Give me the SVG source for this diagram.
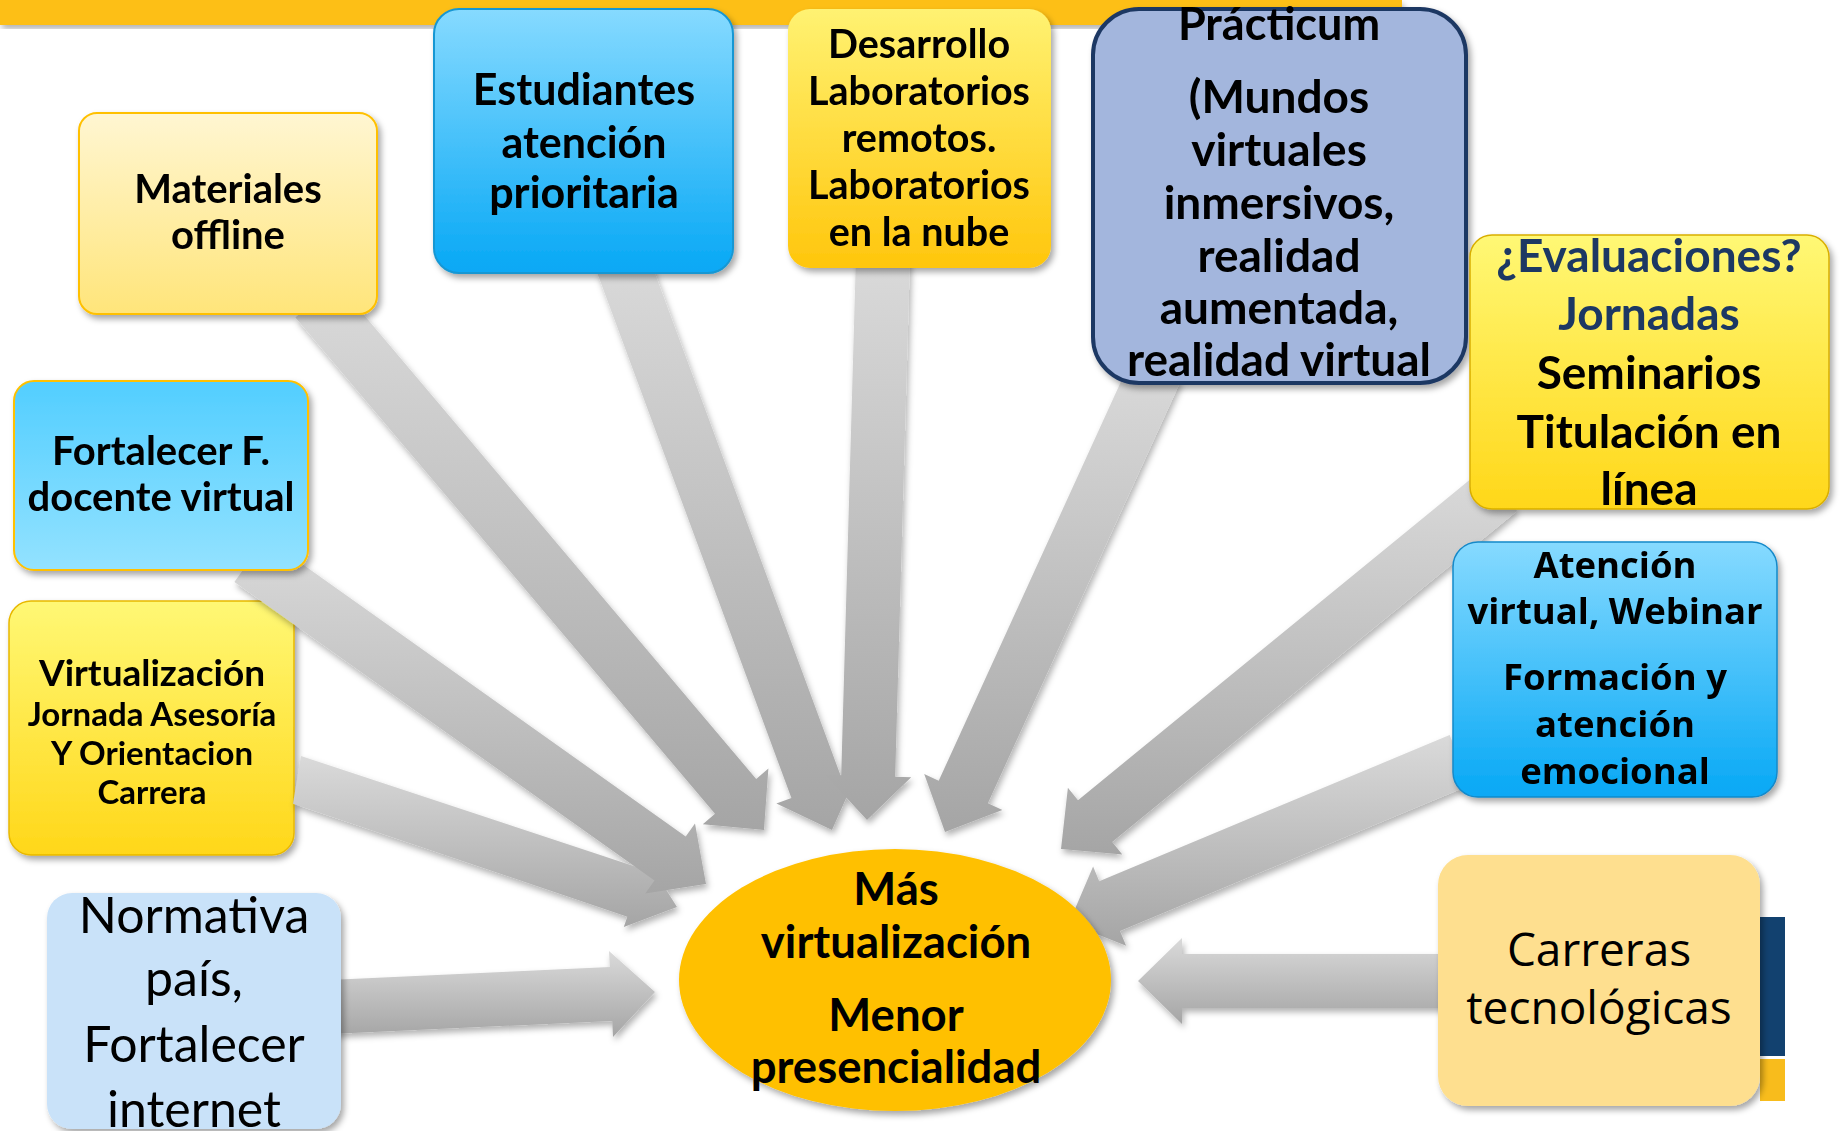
<svg xmlns="http://www.w3.org/2000/svg" width="1843" height="1131" viewBox="0 0 1843 1131">
<style>
.t{font-family:Lato,"Liberation Sans",sans-serif;font-weight:bold;fill:#000;text-anchor:middle}
.r{font-family:Lato,"Liberation Sans",sans-serif;font-weight:normal;fill:#000;text-anchor:middle}
.v{font-family:"Open Sans","DejaVu Sans",sans-serif;font-weight:bold;fill:#000;text-anchor:middle}
.o{font-family:"Open Sans","Liberation Sans",sans-serif;font-weight:normal;fill:#000;text-anchor:middle}
.navy{fill:#1F3864}
.arrow{fill:url(#gArrow)}
</style>
<defs>
<filter id="sh" x="-10%" y="-10%" width="125%" height="130%">
<feDropShadow dx="3" dy="4" stdDeviation="3" flood-color="#000" flood-opacity="0.35"/>
</filter>
<filter id="ash" x="-10%" y="-10%" width="125%" height="125%">
<feDropShadow dx="2" dy="4" stdDeviation="3" flood-color="#000" flood-opacity="0.3"/>
</filter>
<linearGradient id="gArrow" x1="0" y1="0" x2="0" y2="1">
<stop offset="0" stop-color="#DADADA"/><stop offset="1" stop-color="#A5A5A5"/>
</linearGradient>
<linearGradient id="gPaleY" x1="0" y1="0" x2="0" y2="1">
<stop offset="0" stop-color="#FFF6D2"/><stop offset="1" stop-color="#FFE57A"/>
</linearGradient>
<linearGradient id="gBlue" x1="0" y1="0" x2="0" y2="1">
<stop offset="0" stop-color="#86DAFF"/><stop offset="1" stop-color="#07A8F5"/>
</linearGradient>
<linearGradient id="gBlueUp" x1="0" y1="0" x2="0" y2="1">
<stop offset="0" stop-color="#52CEFF"/><stop offset="1" stop-color="#93E2FF"/>
</linearGradient>
<linearGradient id="gGold" x1="0" y1="0" x2="0" y2="1">
<stop offset="0" stop-color="#FFF272"/><stop offset="1" stop-color="#FFC60C"/>
</linearGradient>
<linearGradient id="gYel" x1="0" y1="0" x2="0" y2="1">
<stop offset="0" stop-color="#FFF875"/><stop offset="1" stop-color="#FFD719"/>
</linearGradient>
</defs>
<rect width="1843" height="1131" fill="#FFFFFF"/>
<rect x="0" y="0" width="1402" height="25" fill="#FDBF17" filter="url(#ash)"/>

<g id="node-virtualizacion" filter="url(#sh)">
<rect x="9" y="601" width="285" height="254" rx="22" fill="url(#gYel)" stroke="#E8B800" stroke-width="1.5"/>
<text class="t" x="152" y="686" font-size="37">Virtualización</text>
<text class="t" x="152" y="726" font-size="33">Jornada Asesoría</text>
<text class="t" x="152" y="765" font-size="33">Y Orientacion</text>
<text class="t" x="152" y="804" font-size="33">Carrera</text>
</g>

<g id="connectors" filter="url(#ash)">
<polygon class="arrow" points="301,756 643.3,869.3 646.8,858.9 677,907 623.8,927.1 627.3,916.7 293,803.7"/>
<polygon class="arrow" points="234.4,582 654.5,880.5 645.2,893.6 706,884 695,823.4 685.7,836.5 265.6,538"/>
<polygon class="arrow" points="295.4,317.4 715,813.8 702.8,824.2 764,830 768.4,768.6 756.2,779 336.6,282.6"/>
<polygon class="arrow" points="596.7,271.4 791.4,798.1 776.4,803.6 832,830 857,773.8 842,779.3 647.3,252.6"/>
<polygon class="arrow" points="856,254.2 841.2,775.2 825.2,774.8 867,820 911.2,777.2 895.2,776.8 910,255.8"/>
<polygon class="arrow" points="1131.4,358.8 938.7,780.8 924.2,774.1 945,832 1002.4,809.9 987.9,803.2 1180.6,381.2"/>
<polygon class="arrow" points="1482.9,469.1 1078,800.2 1067.9,787.8 1061,849 1122.3,854.4 1112.2,842 1517.1,510.9"/>
<polygon class="arrow" points="1449.6,735.1 1099.2,881.2 1093.1,866.4 1069,923 1126.1,945.8 1120,931 1470.4,784.9"/>
<polygon class="arrow" points="1450,954 1182,954 1182,938 1138,981 1182,1024 1182,1008 1450,1008"/>
<polygon class="arrow" points="328.8,980 609.8,967 609,951 655,992 613,1037 612.2,1021 331.2,1034"/>
</g>

<g id="node-materiales" filter="url(#sh)">
<rect x="79" y="113" width="298" height="201" rx="18" fill="url(#gPaleY)" stroke="#FFC000" stroke-width="2"/>
<text class="t" x="228" y="203" font-size="40">Materiales</text>
<text class="t" x="228" y="249" font-size="40">offline</text>
</g>

<g id="node-estudiantes" filter="url(#sh)">
<rect x="434" y="9" width="299" height="264" rx="25" fill="url(#gBlue)" stroke="#1797D3" stroke-width="2"/>
<text class="t" x="584" y="105" font-size="43">Estudiantes</text>
<text class="t" x="584" y="158" font-size="43">atención</text>
<text class="t" x="584" y="208" font-size="43">prioritaria</text>
</g>

<g id="node-desarrollo" filter="url(#sh)">
<rect x="788" y="9" width="263" height="259" rx="22" fill="url(#gGold)"/>
<text class="t" x="919" y="58" font-size="39.5">Desarrollo</text>
<text class="t" x="919" y="105" font-size="39.5">Laboratorios</text>
<text class="t" x="919" y="152" font-size="39.5">remotos.</text>
<text class="t" x="919" y="199" font-size="39.5">Laboratorios</text>
<text class="t" x="919" y="246" font-size="39.5">en la nube</text>
</g>

<g id="node-practicum" filter="url(#sh)">
<rect x="1093" y="9" width="373" height="374" rx="46" fill="#A3B6DD" stroke="#1F3864" stroke-width="4"/>
<text class="t" x="1279" y="40" font-size="45">Prácticum</text>
<text class="t" x="1279" y="113" font-size="46">(Mundos</text>
<text class="t" x="1279" y="166" font-size="46">virtuales</text>
<text class="t" x="1279" y="219" font-size="46">inmersivos,</text>
<text class="t" x="1279" y="272" font-size="46">realidad</text>
<text class="t" x="1279" y="324" font-size="46">aumentada,</text>
<text class="t" x="1279" y="376" font-size="46">realidad virtual</text>
</g>

<g id="node-evaluaciones" filter="url(#sh)">
<rect x="1470" y="235" width="359" height="274" rx="22" fill="url(#gYel)" stroke="#D9AE00" stroke-width="1.5"/>
<text class="t navy" x="1649" y="272" font-size="46" style="fill:#1F3864">¿Evaluaciones?</text>
<text class="t navy" x="1649" y="330" font-size="46" style="fill:#1F3864">Jornadas</text>
<text class="t" x="1649" y="389" font-size="46">Seminarios</text>
<text class="t" x="1649" y="448" font-size="46">Titulación en</text>
<text class="t" x="1649" y="505" font-size="46">línea</text>
</g>

<g id="node-fortalecer" filter="url(#sh)">
<rect x="14" y="381" width="294" height="189" rx="20" fill="url(#gBlueUp)" stroke="#FFC000" stroke-width="2"/>
<text class="t" x="161" y="465" font-size="40">Fortalecer F.</text>
<text class="t" x="161" y="511" font-size="40">docente virtual</text>
</g>

<g id="node-atencion" filter="url(#sh)">
<rect x="1453" y="542" width="324" height="255" rx="25" fill="url(#gBlue)" stroke="#1489C9" stroke-width="1.5"/>
<text class="v" x="1615" y="578" font-size="36.5">Atención</text>
<text class="v" x="1615" y="624" font-size="36.5">virtual, Webinar</text>
<text class="v" x="1615" y="690" font-size="36.5">Formación y</text>
<text class="v" x="1615" y="737" font-size="36.5">atención</text>
<text class="v" x="1615" y="784" font-size="36.5">emocional</text>
</g>

<g id="node-normativa" filter="url(#sh)">
<rect x="47" y="893" width="294" height="236" rx="25" fill="#C9E2F9"/>
<text class="r" x="194" y="933" font-size="50">Normativa</text>
<text class="r" x="194" y="996" font-size="50">país,</text>
<text class="r" x="194" y="1062" font-size="50">Fortalecer</text>
<text class="r" x="194" y="1127" font-size="50">internet</text>
</g>

<g id="node-carreras">
<rect x="1760" y="917" width="25" height="139" fill="#12416F"/>
<rect x="1760" y="1059" width="25" height="42" fill="#F8BC1C"/>
<rect x="1438" y="855" width="322" height="251" rx="30" fill="#FEDF8F" filter="url(#sh)"/>
<text class="o" x="1599" y="966" font-size="46">Carreras</text>
<text class="o" x="1599" y="1024" font-size="46">tecnológicas</text>
</g>

<g id="node-centro">
<ellipse cx="895" cy="980" rx="216" ry="131" fill="#FFC000" filter="url(#sh)"/>
<text class="t" x="896" y="905" font-size="45.5">Más</text>
<text class="t" x="896" y="958" font-size="45.5">virtualización</text>
<text class="t" x="896" y="1031" font-size="45.5">Menor</text>
<text class="t" x="896" y="1083" font-size="45.5">presencialidad</text>
</g>
</svg>
